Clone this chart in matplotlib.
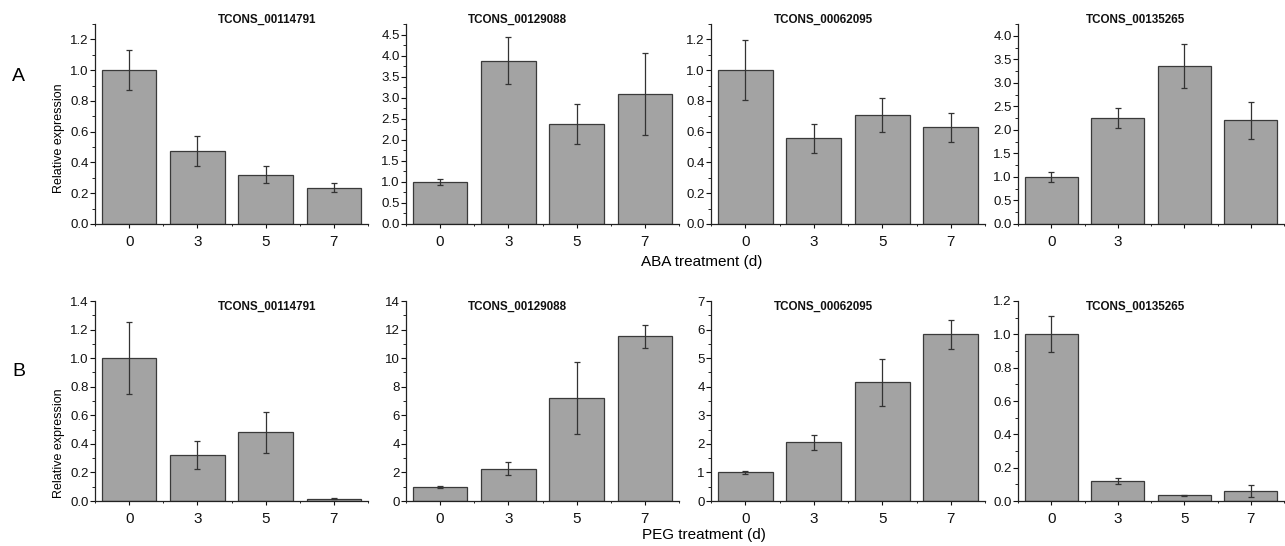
import numpy as np
import matplotlib
matplotlib.use("Agg")
import matplotlib.pyplot as plt
from matplotlib.ticker import MultipleLocator, FormatStrFormatter

plt.rcParams['font.family'] = ['Liberation Sans', 'DejaVu Sans']

days = ['0', '3', '5', '7']
genes = ['TCONS_00114791', 'TCONS_00129088', 'TCONS_00062095', 'TCONS_00135265']

# ABA treatment (row A)
aba_means = [
    [1.0, 0.475, 0.32, 0.235],
    [1.0, 3.88, 2.38, 3.09],
    [1.0, 0.556, 0.707, 0.628],
    [1.0, 2.26, 3.36, 2.20],
]
aba_err = [
    [0.13, 0.097, 0.054, 0.03],
    [0.065, 0.56, 0.48, 0.97],
    [0.195, 0.092, 0.109, 0.095],
    [0.097, 0.21, 0.46, 0.39],
]

# PEG treatment (row B)
peg_means = [
    [1.0, 0.32, 0.48, 0.015],
    [1.0, 2.27, 7.23, 11.54],
    [1.0, 2.05, 4.15, 5.84],
    [1.0, 0.121, 0.034, 0.062],
]
peg_err = [
    [0.252, 0.098, 0.145, 0.004],
    [0.06, 0.45, 2.52, 0.81],
    [0.06, 0.26, 0.81, 0.51],
    [0.108, 0.02, 0.004, 0.036],
]

# axis settings: (ymax, major, minor, fmt)
aba_axes = [(1.3, 0.2, 0.1, '%.1f'), (4.75, 0.5, 0.25, '%.1f'),
            (1.3, 0.2, 0.1, '%.1f'), (4.25, 0.5, 0.25, '%.1f')]
peg_axes = [(1.4, 0.2, 0.1, '%.1f'), (14, 2, 1, '%d'),
            (7, 1, 0.5, '%d'), (1.2, 0.2, 0.1, '%.1f')]

title_x = [0.63, 0.41, 0.41, 0.44]
lefts = [95, 406, 711, 1018]
rights = [368, 679, 985, 1284]

W, H = 1285, 546
fig = plt.figure(figsize=(12.85, 5.46), dpi=100)


def draw_row(means, errs, settings, top_px, bot_px, title_y, row_tag, label_y):
    axes = []
    for i in range(4):
        l = lefts[i] / W
        w = (rights[i] - lefts[i]) / W
        b = 1 - bot_px / H
        h = (bot_px - top_px) / H
        ax = fig.add_axes([l, b, w, h])
        x = np.arange(4)
        ax.bar(x, means[i], width=0.8, color='#a3a3a3', edgecolor='#3a3a3a',
               linewidth=0.9, zorder=2)
        ax.errorbar(x, means[i], yerr=errs[i], fmt='none', ecolor='#333333',
                    elinewidth=0.9, capsize=2.5, capthick=0.9, zorder=3)
        ymax, major, minor, fmt = settings[i]
        ax.set_ylim(0, ymax)
        ax.set_xlim(-0.5, 3.5)
        ax.yaxis.set_major_locator(MultipleLocator(major))
        ax.yaxis.set_minor_locator(MultipleLocator(minor))
        ax.yaxis.set_major_formatter(FormatStrFormatter(fmt))
        ax.set_xticks(x)
        ax.set_xticks(np.arange(-0.5, 4, 1), minor=True)
        labels = list(days)
        if row_tag == 'A' and i == 3:
            labels = ['0', '3', '', '']
        ax.set_xticklabels(labels, fontsize=11)
        ax.tick_params(axis='y', which='major', length=3.5, width=0.8,
                       labelsize=9.5, pad=1, colors='#111111')
        ax.tick_params(axis='y', which='minor', length=2, width=0.6)
        ax.tick_params(axis='x', which='major', length=3, width=0.8, pad=5,
                       colors='#111111')
        ax.tick_params(axis='x', which='minor', length=1.5, width=0.6)
        for s in ['top', 'right']:
            ax.spines[s].set_visible(False)
        for s in ['left', 'bottom']:
            ax.spines[s].set_linewidth(0.9)
            ax.spines[s].set_color('#222222')
        ax.text(title_x[i], title_y, genes[i], transform=ax.transAxes,
                ha='center', va='center', fontsize=8.4, fontweight='bold',
                color='#111111')
        axes.append(ax)
    axes[0].set_ylabel('Relative expression', fontsize=9)
    axes[0].yaxis.set_label_coords(-0.11, label_y)
    fig.text(12 / W, 1 - (77 if row_tag == 'A' else 372) / H, row_tag,
             fontsize=14, ha='left', va='center')
    return axes


draw_row(aba_means, aba_err, aba_axes, 24, 224, 1.02, 'A', 0.43)
draw_row(peg_means, peg_err, peg_axes, 301, 501, 0.97, 'B', 0.29)

fig.text(702 / W, 1 - 262 / H, 'ABA treatment (d)', fontsize=11,
         ha='center', va='center')
fig.text(704 / W, 1 - 535 / H, 'PEG treatment (d)', fontsize=11,
         ha='center', va='center')

fig.savefig('out.png', dpi=100, facecolor='white')
